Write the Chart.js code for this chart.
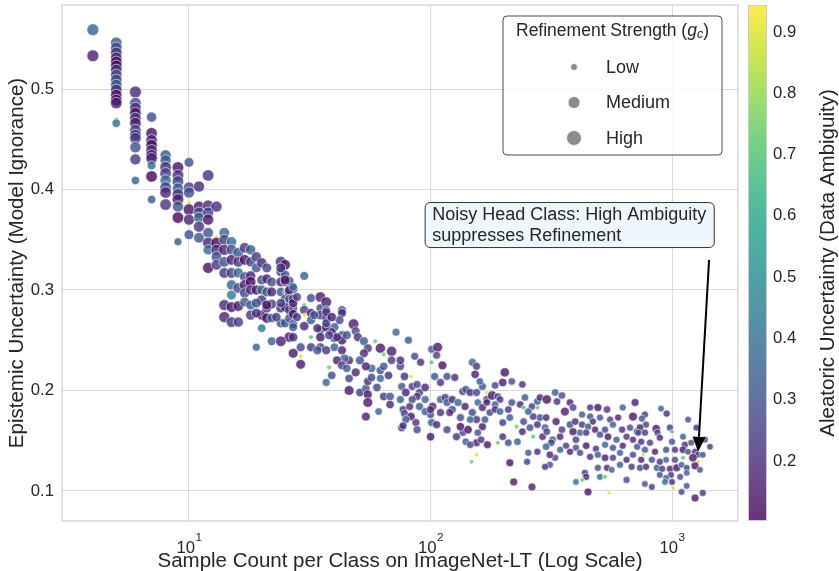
<!DOCTYPE html>
<html>
<head>
<meta charset="utf-8">
<script src="https://cdn.jsdelivr.net/npm/chart.js@4.4.1/dist/chart.umd.min.js"></script>
<style>
  html, body { margin: 0; padding: 0; background: #fff; }
</style>
</head>
<body>
<canvas id="chart" width="839" height="571"></canvas>
<script>
// one entry per class: sample count, epistemic, aleatoric, refinement strength g_c
const counts = [
  4,4,5,5,5,5,5,5,5,5,
  5,5,5,5,5,5,5,5,6,6,
  6,6,6,6,6,6,6,6,6,6,
  7,7,7,7,7,7,7,7,7,7,
  8,8,8,8,8,8,8,8,9,9,
  9,9,9,9,9,9,9,10,10,10,
  10,10,10,10,11,11,11,11,11,11,
  12,12,12,12,12,12,12,12,13,13,
  13,13,13,13,14,14,14,14,14,14,
  14,15,15,15,15,15,15,15,15,16,
  16,16,16,16,16,17,17,17,17,17,
  17,18,18,18,18,18,18,18,19,19,
  19,20,20,20,20,20,20,21,21,21,
  21,21,22,22,22,22,22,24,24,24,
  24,24,24,25,25,25,25,25,25,25,
  26,26,26,26,26,26,27,27,27,27,
  27,27,30,30,30,30,30,29,29,32,
  32,32,32,32,35,35,35,35,35,35,
  37,37,37,37,37,27,19,24,54,77,
  43,43,42,40,39,43,40,43,48,49,
  50,53,55,59,53,51,46,44,41,38,
  39,43,45,49,46,46,51,54,55,57,
  57,54,62,62,64,69,69,64,67,62,
  60,55,55,61,64,68,68,72,81,75,
  78,76,83,84,79,75,82,78,83,90,
  90,95,95,88,86,91,101,107,106,101,
  112,104,110,117,126,110,115,102,100,110,
  101,106,117,100,95,87,79,76,88,117,
  123,123,130,120,133,139,136,140,146,155,
  149,155,153,164,171,171,157,164,149,155,
  146,164,136,128,140,155,146,157,148,155,
  88,84,75,133,143,100,77,203,199,217,
  240,185,160,180,190,194,185,171,176,168,
  185,194,210,217,235,246,263,277,284,303,
  328,334,350,378,360,389,424,458,493,538,
  625,703,458,470,503,554,598,689,424,449,
  480,528,569,621,670,717,416,441,503,543,
  589,648,689,717,625,569,528,484,441,400,
  364,344,378,416,458,493,528,569,609,648,
  689,680,609,538,493,563,503,528,436,441,
  400,424,648,449,548,221,263,312,298,328,
  277,254,251,213,190,172,210,162,199,229,
  266,243,227,213,199,240,258,277,298,291,
  303,320,344,350,331,303,284,266,254,243,
  277,301,316,301,312,378,397,389,400,772,
  750,900,950,780,737,725,772,860,870,980,
  1000,1110,1165,1130,1200,1000,890,810,745,772,
  850,945,1028,1110,1165,1245,1280,1220,1280,1110,
  1028,945,890,825,745,760,737,780,865,910,
  980,1045,1095,1150,1245,890,990,945,1000,1080,
  1150,772,825,935,1010,1150,1095,1245,1340,1165,
  1260,1370,1436,1340,1305,
  37,33,34,37,39,45,41,38,34,37,
  40,43,29,28,27,23,19,19,21,24,
  27,28,26,27,25,24
];
const epistemic = [
  .559,.533,.546,.541,.536,.531,.527,.523,.519,.514,
  .509,.504,.499,.494,.489,.486,.470,.466,.497,.486,
  .481,.476,.471,.466,.459,.454,.451,.442,.430,.409,
  .472,.456,.449,.444,.439,.434,.431,.424,.413,.390,
  .434,.429,.422,.416,.409,.402,.397,.385,.422,.414,
  .408,.401,.395,.390,.383,.372,.348,.427,.402,.397,
  .387,.380,.370,.355,.403,.383,.377,.372,.363,.352,
  .414,.384,.377,.370,.357,.347,.340,.322,.383,.353,
  .347,.340,.333,.325,.357,.350,.340,.328,.317,.285,
  .273,.348,.340,.330,.317,.305,.295,.283,.268,.337,
  .328,.317,.302,.284,.268,.342,.330,.313,.305,.297,
  .288,.340,.328,.314,.308,.300,.285,.275,.333,.322,
  .300,.327,.310,.300,.290,.275,.262,.322,.311,.298,
  .282,.272,.308,.298,.286,.272,.249,.328,.318,.308,
  .298,.282,.267,.325,.315,.308,.298,.291,.283,.267,
  .309,.298,.291,.280,.272,.253,.301,.291,.282,.276,
  .266,.253,.314,.285,.280,.275,.264,.234,.226,.292,
  .277,.270,.253,.243,.293,.282,.275,.260,.253,.243,
  .288,.280,.272,.263,.208,.237,.243,.249,.174,.181,
  .280,.277,.270,.263,.258,.255,.252,.250,.266,.259,
  .253,.249,.242,.249,.237,.230,.230,.232,.230,.223,
  .215,.225,.222,.218,.212,.200,.198,.202,.209,.213,
  .222,.224,.220,.242,.236,.239,.230,.224,.215,.212,
  .203,.196,.188,.179,.194,.194,.186,.258,.250,.224,
  .214,.204,.214,.204,.198,.191,.184,.177,.174,.184,
  .198,.203,.191,.206,.234,.228,.241,.243,.235,.228,
  .225,.214,.208,.214,.213,.191,.193,.184,.176,.178,
  .168,.166,.161,.154,.179,.168,.171,.163,.161,.188,
  .191,.181,.188,.178,.173,.184,.199,.201,.198,.198,
  .228,.224,.216,.204,.198,.191,.188,.183,.178,.171,
  .171,.164,.158,.154,.149,.148,.146,.158,.129,.136,
  .194,.191,.230,.164,.161,.181,.165,.218,.208,.209,
  .206,.205,.209,.195,.194,.191,.186,.188,.178,.171,
  .181,.179,.181,.188,.186,.193,.184,.189,.193,.191,
  .198,.189,.195,.188,.179,.183,.176,.183,.183,.181,
  .183,.188,.174,.169,.173,.171,.173,.174,.166,.164,
  .161,.161,.166,.161,.163,.159,.158,.158,.156,.154,
  .151,.154,.151,.144,.145,.143,.146,.142,.145,.143,
  .145,.141,.139,.138,.134,.136,.133,.133,.138,.131,
  .136,.124,.126,.123,.123,.121,.114,.114,.118,.114,
  .109,.111,.111,.099,.098,.109,.104,.126,.124,.133,
  .139,.138,.129,.128,.148,.146,.148,.151,.154,.149,
  .154,.169,.164,.173,.168,.159,.163,.166,.163,.154,
  .159,.151,.154,.161,.169,.171,.173,.174,.179,.183,
  .183,.173,.148,.144,.136,.166,.169,.159,.151,.176,
  .172,.182,.177,.166,.163,.158,.158,.162,.158,.163,
  .159,.154,.149,.146,.148,.149,.153,.148,.149,.141,
  .139,.141,.141,.141,.139,.139,.136,.133,.129,.133,
  .131,.131,.129,.131,.131,.136,.123,.124,.123,.122,
  .122,.123,.126,.123,.125,.116,.116,.113,.109,.114,
  .118,.107,.104,.109,.103,.105,.099,.093,.098,.171,
  .163,.151,.144,.136,.121,
  .278,.275,.262,.267,.273,.255,.253,.255,.240,.240,
  .243,.240,.243,.273,.263,.273,.277,.287,.285,.287,
  .287,.293,.300,.303,.310,.322
];
const aleatoric = [
  .36,.17,.33,.28,.24,.19,.14,.13,.22,.30,
  .26,.34,.20,.15,.12,.17,.78,.40,.20,.27,
  .22,.14,.24,.16,.28,.19,.25,.30,.24,.36,
  .29,.14,.18,.13,.21,.15,.20,.38,.12,.33,
  .30,.35,.22,.26,.38,.27,.19,.22,.14,.20,
  .26,.33,.22,.17,.31,.12,.34,.30,.25,.30,
  .88,.14,.18,.29,.20,.15,.28,.36,.22,.30,
  .22,.20,.27,.15,.32,.18,.40,.13,.21,.90,
  .12,.20,.30,.24,.38,.25,.17,.30,.22,.20,
  .18,.40,.30,.16,.24,.36,.45,.14,.22,.33,
  .22,.38,.27,.16,.25,.22,.14,.30,.19,.26,
  .34,.35,.26,.18,.13,.20,.33,.24,.24,.32,
  .16,.20,.28,.37,.22,.15,.42,.26,.17,.31,
  .21,.14,.30,.18,.25,.35,.36,.22,.27,.16,
  .33,.20,.28,.13,.30,.22,.72,.26,.18,.33,
  .28,.16,.36,.22,.30,.15,.24,.19,.31,.14,
  .27,.21,.35,.72,.25,.90,.18,.88,.16,.29,
  .17,.33,.70,.23,.16,.30,.21,.36,.15,.27,
  .17,.33,.23,.14,.35,.15,.34,.16,.17,.24,
  .32,.20,.27,.34,.18,.25,.30,.15,.16,.28,
  .21,.33,.24,.72,.19,.30,.22,.36,.17,.74,
  .29,.22,.34,.18,.26,.15,.24,.31,.20,.27,
  .36,.17,.29,.15,.75,.16,.24,.33,.21,.38,
  .26,.14,.15,.35,.23,.30,.19,.36,.33,.27,
  .20,.31,.88,.24,.17,.34,.21,.28,.15,.30,
  .24,.18,.36,.26,.29,.20,.34,.16,.25,.72,
  .15,.31,.22,.28,.19,.35,.24,.17,.29,.21,
  .33,.18,.26,.15,.36,.22,.30,.17,.27,.32,
  .18,.25,.37,.20,.29,.16,.23,.33,.19,.26,
  .35,.22,.17,.30,.90,.24,.36,.18,.27,.20,
  .33,.15,.29,.22,.34,.18,.26,.31,.74,.88,
  .21,.27,.19,.13,.13,.19,.25,.15,.16,.30,
  .22,.27,.34,.15,.29,.23,.34,.19,.26,.32,
  .17,.36,.21,.28,.18,.33,.24,.30,.19,.15,
  .35,.22,.29,.17,.16,.27,.33,.20,.14,.22,
  .36,.17,.28,.19,.31,.24,.18,.15,.22,.30,
  .17,.26,.34,.20,.28,.16,.35,.21,.28,.15,
  .32,.22,.19,.30,.17,.27,.36,.21,.15,.29,
  .23,.33,.18,.26,.20,.31,.16,.24,.35,.19,
  .28,.22,.32,.18,.27,.36,.38,.72,.24,.19,
  .40,.74,.27,.15,.90,.16,.17,.30,.22,.27,
  .20,.33,.25,.14,.74,.15,.30,.24,.19,.36,
  .72,.27,.75,.33,.22,.17,.29,.21,.33,.18,
  .26,.31,.19,.24,.16,.90,.30,.23,.35,.72,
  .74,.20,.27,.35,.18,.29,.21,.15,.26,.23,
  .31,.36,.19,.27,.17,.33,.22,.15,.29,.24,
  .72,.34,.90,.20,.27,.31,.18,.25,.21,.33,
  .17,.28,.22,.16,.30,.19,.25,.15,.88,.72,
  .27,.34,.21,.30,.17,.90,.26,.19,.32,.23,
  .18,.15,.35,.24,.14,.29,.21,.33,.19,.26,
  .36,.30,.22,.40,.88,.33,.27,.15,.22,.29,
  .20,.31,.24,.30,.33,
  .24,.31,.19,.28,.16,.33,.21,.26,.30,.22,
  .35,.17,.27,.22,.33,.25,.22,.30,.16,.24,
  .17,.26,.20,.38,.16,.23
];
const strength = [
  .95,.95,.9,.9,.9,.9,.9,.9,.9,.9,
  .9,.9,.9,.9,.9,.9,.1,.55,.95,.9,
  .9,.9,.9,.9,.9,.9,.9,.85,.85,.55,
  .75,.9,.9,.9,.9,.9,.9,.6,.9,.55,
  .85,.85,.9,.9,.85,.9,.9,.9,.9,.9,
  .9,.85,.9,.9,.85,.9,.5,.7,.85,.85,
  .05,.9,.85,.7,.85,.85,.85,.8,.85,.8,
  .9,.85,.85,.85,.8,.85,.75,.85,.85,.05,
  .85,.85,.8,.8,.8,.8,.85,.8,.8,.85,
  .85,.75,.8,.8,.8,.75,.7,.8,.8,.8,
  .8,.75,.8,.8,.75,.8,.8,.75,.8,.75,
  .7,.75,.75,.75,.8,.75,.7,.75,.75,.7,
  .75,.75,.7,.7,.75,.75,.55,.7,.7,.7,
  .7,.75,.7,.7,.7,.65,.6,.85,.7,.7,
  .65,.7,.65,.8,.65,.65,.12,.65,.7,.65,
  .65,.7,.6,.65,.6,.75,.65,.65,.6,.65,
  .6,.65,.6,.12,.65,.05,.65,.05,.7,.6,
  .65,.6,.12,.6,.8,.6,.65,.6,.65,.6,
  .8,.6,.6,.65,.5,.7,.5,.8,.6,.5,
  .6,.6,.6,.6,.6,.6,.6,.65,.8,.6,
  .6,.6,.6,.12,.6,.6,.6,.55,.6,.12,
  .55,.6,.55,.6,.55,.7,.55,.55,.55,.55,
  .55,.6,.55,.75,.12,.75,.55,.55,.55,.5,
  .55,.6,.7,.45,.55,.55,.55,.5,.5,.55,
  .55,.5,.05,.5,.55,.5,.5,.5,.55,.5,
  .5,.55,.5,.5,.5,.5,.5,.7,.5,.12,
  .6,.5,.5,.5,.5,.5,.5,.55,.5,.5,
  .5,.5,.5,.55,.5,.5,.5,.5,.5,.5,
  .5,.5,.5,.5,.5,.5,.5,.5,.5,.5,
  .5,.5,.55,.5,.05,.5,.45,.5,.5,.5,
  .45,.5,.45,.5,.45,.5,.45,.45,.1,.05,
  .5,.5,.55,.55,.55,.5,.5,.65,.55,.45,
  .45,.45,.45,.65,.45,.45,.45,.45,.45,.45,
  .45,.45,.45,.45,.45,.45,.45,.45,.45,.65,
  .45,.45,.45,.45,.6,.45,.4,.4,.5,.45,
  .4,.5,.4,.4,.4,.4,.4,.6,.4,.4,
  .4,.4,.4,.4,.4,.45,.4,.4,.4,.45,
  .4,.4,.4,.4,.4,.4,.4,.4,.45,.4,
  .4,.4,.4,.4,.4,.4,.45,.4,.4,.4,
  .4,.4,.4,.4,.4,.35,.35,.12,.4,.4,
  .35,.1,.4,.5,.05,.5,.5,.4,.4,.4,
  .4,.4,.4,.5,.1,.5,.45,.45,.45,.45,
  .12,.45,.12,.45,.45,.45,.45,.45,.45,.45,
  .45,.45,.45,.45,.5,.05,.45,.45,.45,.12,
  .12,.45,.45,.45,.45,.45,.45,.5,.45,.4,
  .4,.35,.4,.4,.45,.4,.4,.55,.4,.4,
  .1,.35,.05,.4,.35,.4,.4,.4,.4,.4,
  .4,.4,.4,.45,.35,.4,.35,.55,.05,.12,
  .4,.35,.4,.4,.4,.05,.4,.4,.4,.4,
  .4,.5,.35,.35,.5,.35,.35,.35,.35,.35,
  .35,.35,.35,.35,.05,.35,.35,.5,.4,.35,
  .35,.35,.35,.35,.35,
  .6,.6,.6,.6,.65,.6,.6,.6,.6,.6,
  .55,.6,.6,.6,.6,.65,.7,.7,.7,.65,
  .65,.6,.65,.55,.7,.7
];

const xLimits = [2.98, 1875];
const yLimits = [0.0701, 0.5836];
const aleatoricLimits = [0.102, 0.944];
const xTicks = [10, 100, 1000];
const yTicks = [0.1, 0.2, 0.3, 0.4, 0.5];
const cbTicks = [0.2, 0.3, 0.4, 0.5, 0.6, 0.7, 0.8, 0.9];
const strengthLabels = ['Low', 'Medium', 'High'];
const noteLines = ['Noisy Head Class: High Ambiguity', 'suppresses Refinement'];
const noteAt = [95, 0.387];      // top-left of the note box
const arrowFrom = [1423, 0.330];
const arrowTo = [1282, 0.139];

const FONT = '"Liberation Sans", Arial, sans-serif';
const INK = '#262626';
const GRID = '#dadada';
const VIRIDIS = ['#440154', '#482475', '#414487', '#355f8d', '#2a788e', '#21918c',
                 '#22a884', '#44bf70', '#7ad151', '#bddf26', '#fde725'];
const LEGEND_R = [3.5, 6, 7.5];

function hexRgb(h) {
  return [1, 3, 5].map(i => parseInt(h.substr(i, 2), 16));
}

function viridis(v, alpha) {
  let t = (v - aleatoricLimits[0]) / (aleatoricLimits[1] - aleatoricLimits[0]);
  t = Math.max(0, Math.min(1, t)) * (VIRIDIS.length - 1);
  const i = Math.min(Math.floor(t), VIRIDIS.length - 2);
  const f = t - i;
  const a = hexRgb(VIRIDIS[i]), b = hexRgb(VIRIDIS[i + 1]);
  const c = a.map((x, k) => Math.round(x + (b[k] - x) * f));
  return `rgba(${c[0]},${c[1]},${c[2]},${alpha})`;
}

function roundRect(ctx, x, y, w, h, r) {
  ctx.beginPath();
  ctx.moveTo(x + r, y);
  ctx.arcTo(x + w, y, x + w, y + h, r);
  ctx.arcTo(x + w, y + h, x, y + h, r);
  ctx.arcTo(x, y + h, x, y, r);
  ctx.arcTo(x, y, x + w, y, r);
  ctx.closePath();
}

const points = counts.map((n, i) => ({ x: n, y: epistemic[i] }));
const colors = aleatoric.map(a => viridis(a, 0.8));
const radii = strength.map(g => 1.8 + 4.4 * g);

// 10 with a raised exponent, like matplotlib's log tick labels
function drawXTicks(ctx, xs, area) {
  ctx.fillStyle = INK;
  ctx.textAlign = 'left';
  ctx.textBaseline = 'alphabetic';
  xTicks.forEach(v => {
    const px = xs.getPixelForValue(v);
    const exp = String(Math.round(Math.log10(v)));
    ctx.font = `16.7px ${FONT}`;
    const w1 = ctx.measureText('10').width;
    ctx.font = `11.7px ${FONT}`;
    const w2 = ctx.measureText(exp).width;
    const x0 = px - (w1 + w2) / 2;
    ctx.font = `16.7px ${FONT}`;
    ctx.fillText('10', x0, area.bottom + 32);
    ctx.font = `11.7px ${FONT}`;
    ctx.fillText(exp, x0 + w1 + 0.5, area.bottom + 20);
  });
}

function drawColorbar(ctx, cb, area) {
  const x0 = area.right + 10, w = 19;
  for (let py = Math.round(cb.top); py < Math.round(cb.bottom); py++) {
    ctx.fillStyle = viridis(cb.getValueForPixel(py + 0.5), 0.8);
    ctx.fillRect(x0, py, w, 1);
  }
  ctx.strokeStyle = '#cccccc';
  ctx.lineWidth = 1;
  ctx.strokeRect(x0 + 0.5, cb.top + 0.5, w - 1, cb.bottom - cb.top - 1);

  ctx.save();
  ctx.translate(area.right + 90, (cb.top + cb.bottom) / 2);
  ctx.rotate(-Math.PI / 2);
  ctx.font = `20.5px ${FONT}`;
  ctx.fillStyle = INK;
  ctx.textAlign = 'center';
  ctx.textBaseline = 'middle';
  ctx.fillText('Aleatoric Uncertainty (Data Ambiguity)', 0, 0);
  ctx.restore();
}

function drawNote(ctx, s) {
  const bx = s.x.getPixelForValue(noteAt[0]);
  const by = s.y.getPixelForValue(noteAt[1]);
  ctx.font = `18px ${FONT}`;
  const w = Math.max(...noteLines.map(t => ctx.measureText(t).width)) + 15;
  roundRect(ctx, bx, by, w, 45, 5);
  ctx.fillStyle = '#eef6fe';
  ctx.fill();
  ctx.strokeStyle = '#333';
  ctx.lineWidth = 1;
  ctx.stroke();
  ctx.fillStyle = INK;
  ctx.textAlign = 'left';
  ctx.textBaseline = 'middle';
  noteLines.forEach((t, i) => ctx.fillText(t, bx + 7, by + 12 + i * 21.5));

  // arrow to the noisy head class
  const x0 = s.x.getPixelForValue(arrowFrom[0]), y0 = s.y.getPixelForValue(arrowFrom[1]);
  const x1 = s.x.getPixelForValue(arrowTo[0]), y1 = s.y.getPixelForValue(arrowTo[1]);
  const ang = Math.atan2(y1 - y0, x1 - x0), hl = 15, hw = 6.5;
  const hx = x1 - hl * Math.cos(ang), hy = y1 - hl * Math.sin(ang);
  ctx.beginPath();
  ctx.moveTo(x0, y0);
  ctx.lineTo(hx, hy);
  ctx.strokeStyle = '#000';
  ctx.lineWidth = 2;
  ctx.stroke();
  ctx.beginPath();
  ctx.moveTo(x1, y1);
  ctx.lineTo(hx + hw * Math.sin(ang), hy - hw * Math.cos(ang));
  ctx.lineTo(hx - hw * Math.sin(ang), hy + hw * Math.cos(ang));
  ctx.closePath();
  ctx.fillStyle = '#000';
  ctx.fill();
}

function drawLegend(ctx, area) {
  const w = 219, h = 139, x = area.right - 16 - w, y = area.top + 11;
  roundRect(ctx, x, y, w, h, 4);
  ctx.fillStyle = 'rgba(255,255,255,0.8)';
  ctx.fill();
  ctx.strokeStyle = '#4d4d4d';
  ctx.lineWidth = 1;
  ctx.stroke();

  // title with italic g and subscript c
  const parts = [
    ['Refinement Strength (', `17.5px ${FONT}`, 0],
    ['g', `italic 17.5px ${FONT}`, 0],
    ['c', `italic 12.5px ${FONT}`, 4],
    [')', `17.5px ${FONT}`, 0]
  ];
  let total = 0;
  parts.forEach(p => { ctx.font = p[1]; total += ctx.measureText(p[0]).width; });
  let tx = x + w / 2 - total / 2;
  ctx.fillStyle = INK;
  ctx.textAlign = 'left';
  ctx.textBaseline = 'middle';
  parts.forEach(p => {
    ctx.font = p[1];
    ctx.fillText(p[0], tx, y + 15 + p[2]);
    tx += ctx.measureText(p[0]).width;
  });

  strengthLabels.forEach((label, i) => {
    const cy = y + 51 + i * 35.5;
    ctx.beginPath();
    ctx.arc(x + 71, cy, LEGEND_R[i], 0, 2 * Math.PI);
    ctx.fillStyle = 'rgba(128,128,128,0.9)';
    ctx.fill();
    ctx.strokeStyle = '#fff';
    ctx.lineWidth = 0.8;
    ctx.stroke();
    ctx.fillStyle = INK;
    ctx.font = `18px ${FONT}`;
    ctx.fillText(label, x + 103, cy + 1);
  });
}

const decor = {
  id: 'decor',
  afterDatasetsDraw(chart) {
    const { ctx, chartArea: a } = chart;
    ctx.save();
    ctx.strokeStyle = '#cccccc';
    ctx.lineWidth = 1.2;
    ctx.strokeRect(a.left, a.top, a.right - a.left, a.bottom - a.top);
    ctx.restore();
  },
  afterDraw(chart) {
    const { ctx, chartArea: a, scales } = chart;
    ctx.save();
    drawXTicks(ctx, scales.x, a);
    drawColorbar(ctx, scales.cb, a);
    drawNote(ctx, scales);
    drawLegend(ctx, a);
    ctx.restore();
  }
};

const tickFont = { family: FONT, size: 16.7 };
const titleFont = { family: FONT, size: 20.5, lineHeight: 1 };
const noPad = s => { s.paddingTop = 0; s.paddingBottom = 0; };

new Chart(document.getElementById('chart'), {
  type: 'scatter',
  data: {
    datasets: [{
      data: points,
      pointBackgroundColor: colors,
      pointBorderColor: 'rgba(255,255,255,0.85)',
      pointBorderWidth: 0.7,
      pointRadius: radii,
      pointHoverRadius: radii
    }]
  },
  options: {
    responsive: false,
    animation: false,
    events: [],
    layout: { autoPadding: false, padding: { top: 5, left: 0, right: 0, bottom: 0 } },
    plugins: { legend: { display: false }, tooltip: { enabled: false } },
    scales: {
      x: {
        type: 'logarithmic',
        min: xLimits[0],
        max: xLimits[1],
        afterBuildTicks: s => { s.ticks = xTicks.map(v => ({ value: v })); },
        afterFit: s => { s.height = 50; s.paddingLeft = 0; s.paddingRight = 0; },
        ticks: { display: false },
        grid: { color: GRID, lineWidth: 1, drawTicks: false },
        border: { display: false },
        title: {
          display: true, text: 'Sample Count per Class on ImageNet-LT (Log Scale)',
          font: titleFont, color: INK, padding: { top: 0, bottom: -1 }
        }
      },
      y: {
        min: yLimits[0],
        max: yLimits[1],
        afterBuildTicks: s => { s.ticks = yTicks.map(v => ({ value: v })); },
        afterFit: s => { s.width = 62; noPad(s); },
        ticks: { callback: v => v.toFixed(1), font: tickFont, color: INK, padding: 8 },
        grid: { color: GRID, lineWidth: 1, drawTicks: false },
        border: { display: false },
        title: {
          display: true, text: 'Epistemic Uncertainty (Model Ignorance)',
          font: titleFont, color: INK, padding: { top: 7, bottom: 0 }
        }
      },
      cb: {
        type: 'linear',
        position: 'right',
        min: aleatoricLimits[0],
        max: aleatoricLimits[1],
        afterBuildTicks: s => { s.ticks = cbTicks.map(v => ({ value: v })); },
        afterFit: s => { s.width = 101; noPad(s); },
        ticks: { callback: v => v.toFixed(1), font: tickFont, color: INK, padding: 35 },
        grid: { display: false, drawTicks: false },
        border: { display: false }
      }
    }
  },
  plugins: [decor]
});
</script>
</body>
</html>
